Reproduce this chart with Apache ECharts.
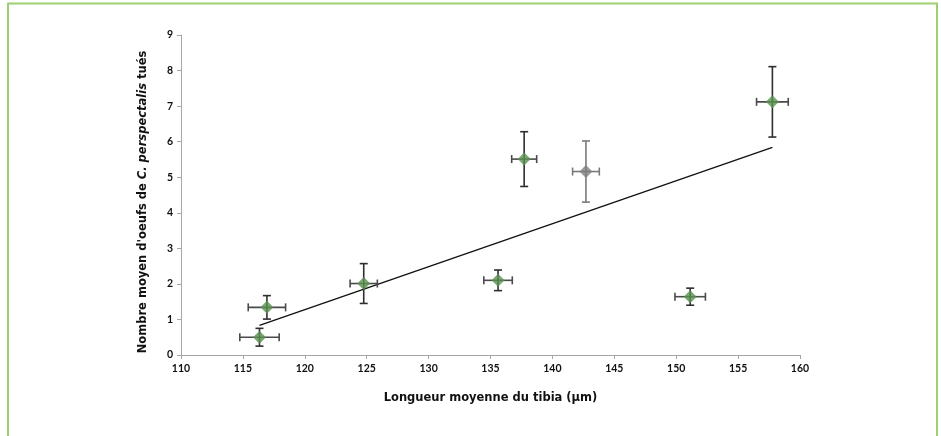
<!DOCTYPE html>
<html>
<head>
<meta charset="utf-8">
<script src="https://cdn.jsdelivr.net/npm/echarts@6/dist/echarts.min.js"></script>
<style>
html,body{margin:0;padding:0;background:#fff;}
#chart{width:941px;height:436px;}
</style>
</head>
<body>
<div id="chart"></div>
<script>
// Data
const tibiaX = [116.34, 116.94, 124.76, 135.61, 137.72, 151.13, 157.77];
const eggsY  = [0.50, 1.34, 2.01, 2.10, 5.51, 1.64, 7.12];
const tibiaErr = [1.59, 1.51, 1.10, 1.15, 1.01, 1.23, 1.28];
const eggsErr  = [0.25, 0.33, 0.56, 0.29, 0.77, 0.24, 0.99];

const greyX = [142.71];
const greyY = [5.16];
const greyXErr = [1.08];
const greyYErr = [0.86];

const trendX = [116.34, 157.77];
const trendY = [0.83, 5.84];

const xTicks = [110, 160, 5];
const yTicks = [0, 9, 1];

const xTitle = 'Longueur moyenne du tibia (µm)';
const yTitleParts = ["Nombre moyen d'oeufs de ", 'C. perspectalis', ' tués'];

const greenData = tibiaX.map((x, i) => [x, eggsY[i], tibiaErr[i], eggsErr[i]]);
const greyData = greyX.map((x, i) => [x, greyY[i], greyXErr[i], greyYErr[i]]);

function errRender(hColor, vColor) {
  return function (params, api) {
    const x = api.value(0), y = api.value(1), ex = api.value(2), ey = api.value(3);
    const l = api.coord([x - ex, y]);
    const r = api.coord([x + ex, y]);
    const t = api.coord([x, y + ey]);
    const b = api.coord([x, y - ey]);
    const cap = 4;
    const hs = { stroke: hColor, lineWidth: 1.6 };
    const vs = { stroke: vColor, lineWidth: 1.6 };
    const line = (x1, y1, x2, y2, style) => ({ type: 'line', shape: { x1, y1, x2, y2 }, style });
    return {
      type: 'group',
      children: [
        line(l[0], l[1], r[0], r[1], hs),
        line(t[0], t[1], b[0], b[1], vs),
        line(l[0], l[1] - cap, l[0], l[1] + cap, hs),
        line(r[0], r[1] - cap, r[0], r[1] + cap, hs),
        line(t[0] - cap, t[1], t[0] + cap, t[1], vs),
        line(b[0] - cap, b[1], b[0] + cap, b[1], vs)
      ]
    };
  };
}

const tickFont = 'Lato, "DejaVu Sans", sans-serif';
const titleFont = '"DejaVu Sans", Lato, sans-serif';

const chart = echarts.init(document.getElementById('chart'), null, { renderer: 'canvas' });
chart.setOption({
  animation: false,
  backgroundColor: '#ffffff',
  graphic: [{
    type: 'rect',
    shape: { x: 8, y: 3.5, width: 929, height: 460 },
    style: { fill: 'none', stroke: '#9ccf72', lineWidth: 2 },
    silent: true
  }],
  grid: { left: 181, right: 141, top: 35, bottom: 81 },
  xAxis: {
    type: 'value',
    min: xTicks[0], max: xTicks[1], interval: xTicks[2],
    name: xTitle,
    nameLocation: 'middle',
    nameGap: 37,
    nameTextStyle: { fontFamily: titleFont, fontWeight: 'bold', fontSize: 11.5, color: '#111' },
    axisLine: { show: true, onZero: false, lineStyle: { color: '#a6a6a6', width: 1 } },
    axisTick: { show: true, inside: false, length: 4, lineStyle: { color: '#a6a6a6' } },
    axisLabel: { fontFamily: tickFont, fontSize: 10.5, color: '#111', fontWeight: 'bold', margin: 8 },
    splitLine: { show: false }
  },
  yAxis: {
    type: 'value',
    min: yTicks[0], max: yTicks[1], interval: yTicks[2],
    name: '{n|' + yTitleParts[0] + '}{i|' + yTitleParts[1] + '}{n|' + yTitleParts[2] + '}',
    nameLocation: 'middle',
    nameGap: 32,
    nameTextStyle: {
      padding: [0, 14, 0, 0],
      rich: {
        n: { fontFamily: titleFont, fontWeight: 'bold', fontSize: 11.5, color: '#111' },
        i: { fontFamily: titleFont, fontWeight: 'bold', fontStyle: 'italic', fontSize: 11.5, color: '#111' }
      }
    },
    axisLine: { show: true, lineStyle: { color: '#a6a6a6', width: 1 } },
    axisTick: { show: true, inside: false, length: 4, lineStyle: { color: '#a6a6a6' } },
    axisLabel: { fontFamily: tickFont, fontSize: 10.5, color: '#111', fontWeight: 'bold', margin: 8 },
    splitLine: { show: false }
  },
  series: [
    {
      type: 'line',
      data: trendX.map((x, i) => [x, trendY[i]]),
      symbol: 'none',
      lineStyle: { color: '#111', width: 1.3 },
      z: 1
    },
    {
      type: 'custom',
      renderItem: errRender('#4a4a4a', '#2e2e2e'),
      data: greenData,
      encode: { x: 0, y: 1 },
      z: 2
    },
    {
      type: 'custom',
      renderItem: errRender('#7a7a7a', '#7a7a7a'),
      data: greyData,
      encode: { x: 0, y: 1 },
      z: 2
    },
    {
      type: 'scatter',
      data: greenData.map(d => [d[0], d[1]]),
      symbol: 'diamond',
      symbolSize: 13,
      itemStyle: { color: '#5a9150' },
      z: 3
    },
    {
      type: 'scatter',
      data: greyData.map(d => [d[0], d[1]]),
      symbol: 'diamond',
      symbolSize: 13,
      itemStyle: { color: '#7f7f7f' },
      z: 3
    }
  ]
});
</script>
</body>
</html>
